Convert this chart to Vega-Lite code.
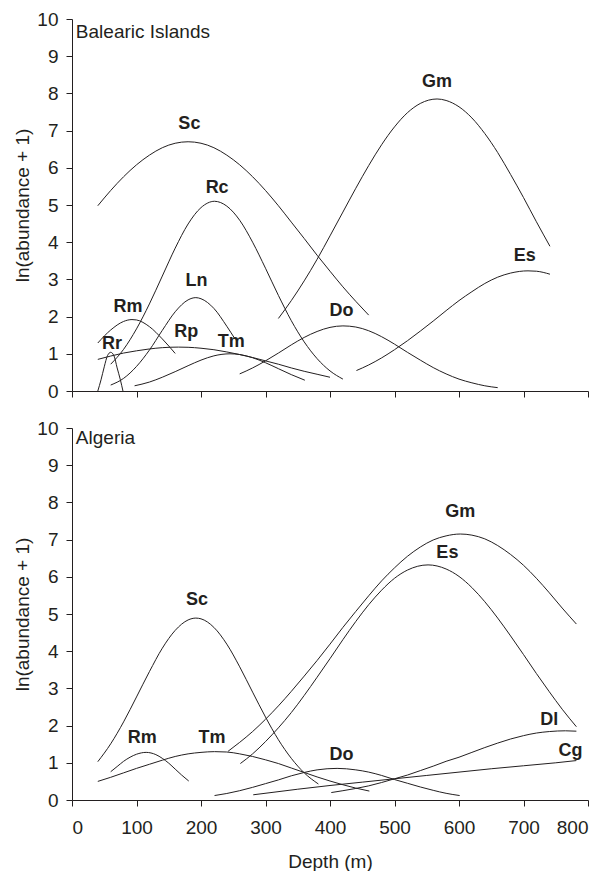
{
  "$schema": "https://vega.github.io/schema/vega-lite/v6.json",
  "background": "white",
  "autosize": {"type": "pad"},
  "padding": {"left": 13, "top": 10, "right": 5, "bottom": 0},
  "config": {
    "view": {"stroke": null},
    "font": "Liberation Sans",
    "axis": {"grid": false, "labelOverlap": false, "domainColor": "#231f20", "tickColor": "#231f20", "labelColor": "#231f20", "titleColor": "#231f20", "labelFont": "Liberation Sans", "titleFont": "Liberation Sans", "labelFontSize": 19, "titleFontSize": 19, "titleFontWeight": "normal", "tickSize": 6, "labelPadding": 8, "domainWidth": 1, "tickWidth": 1}
  },
  "datasets": {
    "balearic": [
      {"species":"Sc","depth":40,"value":4.98},{"species":"Sc","depth":60,"value":5.39},{"species":"Sc","depth":80,"value":5.76},{"species":"Sc","depth":100,"value":6.08},{"species":"Sc","depth":120,"value":6.34},{"species":"Sc","depth":140,"value":6.54},{"species":"Sc","depth":160,"value":6.66},{"species":"Sc","depth":180,"value":6.7},{"species":"Sc","depth":200,"value":6.66},{"species":"Sc","depth":220,"value":6.54},{"species":"Sc","depth":240,"value":6.34},{"species":"Sc","depth":260,"value":6.08},{"species":"Sc","depth":280,"value":5.76},{"species":"Sc","depth":300,"value":5.39},{"species":"Sc","depth":320,"value":4.98},{"species":"Sc","depth":340,"value":4.54},{"species":"Sc","depth":360,"value":4.1},{"species":"Sc","depth":380,"value":3.65},{"species":"Sc","depth":400,"value":3.22},{"species":"Sc","depth":420,"value":2.8},{"species":"Sc","depth":440,"value":2.41},{"species":"Sc","depth":460,"value":2.04},
      {"species":"Rc","depth":60,"value":0.72},{"species":"Rc","depth":80,"value":1.12},{"species":"Rc","depth":100,"value":1.67},{"species":"Rc","depth":120,"value":2.34},{"species":"Rc","depth":140,"value":3.09},{"species":"Rc","depth":160,"value":3.84},{"species":"Rc","depth":180,"value":4.49},{"species":"Rc","depth":200,"value":4.93},{"species":"Rc","depth":221,"value":5.1},{"species":"Rc","depth":240,"value":4.97},{"species":"Rc","depth":260,"value":4.59},{"species":"Rc","depth":280,"value":4.0},{"species":"Rc","depth":300,"value":3.3},{"species":"Rc","depth":320,"value":2.57},{"species":"Rc","depth":340,"value":1.89},{"species":"Rc","depth":360,"value":1.32},{"species":"Rc","depth":380,"value":0.87},{"species":"Rc","depth":400,"value":0.54},{"species":"Rc","depth":420,"value":0.32},
      {"species":"Ln","depth":60,"value":0.16},{"species":"Ln","depth":80,"value":0.34},{"species":"Ln","depth":100,"value":0.66},{"species":"Ln","depth":120,"value":1.1},{"species":"Ln","depth":140,"value":1.63},{"species":"Ln","depth":160,"value":2.13},{"species":"Ln","depth":180,"value":2.45},{"species":"Ln","depth":192,"value":2.51},{"species":"Ln","depth":200,"value":2.48},{"species":"Ln","depth":220,"value":2.22},{"species":"Ln","depth":240,"value":1.74},{"species":"Ln","depth":252,"value":1.42},
      {"species":"Rm","depth":40,"value":1.29},{"species":"Rm","depth":60,"value":1.64},{"species":"Rm","depth":80,"value":1.87},{"species":"Rm","depth":93,"value":1.92},{"species":"Rm","depth":100,"value":1.91},{"species":"Rm","depth":120,"value":1.73},{"species":"Rm","depth":140,"value":1.4},{"species":"Rm","depth":160,"value":1.01},
      {"species":"Rr","depth":40,"value":0},{"species":"Rr","depth":45,"value":0.3},{"species":"Rr","depth":50,"value":0.65},{"species":"Rr","depth":55,"value":0.95},{"species":"Rr","depth":60,"value":1.04},{"species":"Rr","depth":65,"value":0.95},{"species":"Rr","depth":70,"value":0.62},{"species":"Rr","depth":75,"value":0.3},{"species":"Rr","depth":79,"value":0},
      {"species":"Rp","depth":40,"value":0.85},{"species":"Rp","depth":60,"value":0.94},{"species":"Rp","depth":80,"value":1.02},{"species":"Rp","depth":100,"value":1.08},{"species":"Rp","depth":120,"value":1.13},{"species":"Rp","depth":140,"value":1.165},{"species":"Rp","depth":165,"value":1.18},{"species":"Rp","depth":180,"value":1.175},{"species":"Rp","depth":200,"value":1.15},{"species":"Rp","depth":220,"value":1.11},{"species":"Rp","depth":240,"value":1.05},{"species":"Rp","depth":260,"value":0.98},{"species":"Rp","depth":280,"value":0.9},{"species":"Rp","depth":300,"value":0.81},{"species":"Rp","depth":320,"value":0.72},{"species":"Rp","depth":340,"value":0.62},{"species":"Rp","depth":360,"value":0.53},{"species":"Rp","depth":380,"value":0.45},{"species":"Rp","depth":400,"value":0.37},
      {"species":"Tm","depth":97,"value":0.14},{"species":"Tm","depth":120,"value":0.24},{"species":"Tm","depth":140,"value":0.37},{"species":"Tm","depth":160,"value":0.52},{"species":"Tm","depth":180,"value":0.68},{"species":"Tm","depth":200,"value":0.83},{"species":"Tm","depth":220,"value":0.945},{"species":"Tm","depth":245,"value":1.0},{"species":"Tm","depth":260,"value":0.98},{"species":"Tm","depth":280,"value":0.895},{"species":"Tm","depth":300,"value":0.76},{"species":"Tm","depth":320,"value":0.6},{"species":"Tm","depth":340,"value":0.44},{"species":"Tm","depth":361,"value":0.29},
      {"species":"Do","depth":260,"value":0.46},{"species":"Do","depth":280,"value":0.62},{"species":"Do","depth":300,"value":0.81},{"species":"Do","depth":320,"value":1.02},{"species":"Do","depth":340,"value":1.24},{"species":"Do","depth":360,"value":1.44},{"species":"Do","depth":380,"value":1.6},{"species":"Do","depth":400,"value":1.71},{"species":"Do","depth":420,"value":1.75},{"species":"Do","depth":440,"value":1.72},{"species":"Do","depth":460,"value":1.62},{"species":"Do","depth":480,"value":1.46},{"species":"Do","depth":500,"value":1.26},{"species":"Do","depth":520,"value":1.04},{"species":"Do","depth":540,"value":0.83},{"species":"Do","depth":560,"value":0.63},{"species":"Do","depth":580,"value":0.46},{"species":"Do","depth":600,"value":0.32},{"species":"Do","depth":620,"value":0.22},{"species":"Do","depth":640,"value":0.14},{"species":"Do","depth":660,"value":0.09},
      {"species":"Gm","depth":320,"value":1.95},{"species":"Gm","depth":340,"value":2.43},{"species":"Gm","depth":360,"value":2.96},{"species":"Gm","depth":380,"value":3.54},{"species":"Gm","depth":400,"value":4.17},{"species":"Gm","depth":420,"value":4.81},{"species":"Gm","depth":440,"value":5.45},{"species":"Gm","depth":460,"value":6.06},{"species":"Gm","depth":480,"value":6.62},{"species":"Gm","depth":500,"value":7.1},{"species":"Gm","depth":520,"value":7.48},{"species":"Gm","depth":540,"value":7.73},{"species":"Gm","depth":566,"value":7.85},{"species":"Gm","depth":580,"value":7.81},{"species":"Gm","depth":600,"value":7.64},{"species":"Gm","depth":620,"value":7.34},{"species":"Gm","depth":640,"value":6.92},{"species":"Gm","depth":660,"value":6.41},{"species":"Gm","depth":680,"value":5.82},{"species":"Gm","depth":700,"value":5.2},{"species":"Gm","depth":720,"value":4.55},{"species":"Gm","depth":741,"value":3.89},
      {"species":"Es","depth":441,"value":0.55},{"species":"Es","depth":460,"value":0.7},{"species":"Es","depth":480,"value":0.89},{"species":"Es","depth":500,"value":1.11},{"species":"Es","depth":520,"value":1.35},{"species":"Es","depth":540,"value":1.61},{"species":"Es","depth":560,"value":1.88},{"species":"Es","depth":580,"value":2.16},{"species":"Es","depth":600,"value":2.43},{"species":"Es","depth":620,"value":2.67},{"species":"Es","depth":640,"value":2.89},{"species":"Es","depth":660,"value":3.06},{"species":"Es","depth":680,"value":3.17},{"species":"Es","depth":707,"value":3.23},{"species":"Es","depth":720,"value":3.22},{"species":"Es","depth":741,"value":3.14}
    ],
    "balearicLabels": [
      {"label":"Sc","depth":182,"value":7.18},{"label":"Rc","depth":225,"value":5.45},{"label":"Ln","depth":193,"value":2.97},{"label":"Rm","depth":87,"value":2.25},{"label":"Rr","depth":62,"value":1.26},{"label":"Rp","depth":177,"value":1.58},{"label":"Tm","depth":247,"value":1.31},{"label":"Gm","depth":566,"value":8.3},{"label":"Es","depth":702,"value":3.62},{"label":"Do","depth":418,"value":2.16}
    ],
    "algeria": [
      {"species":"Sc","depth":40,"value":1.03},{"species":"Sc","depth":60,"value":1.51},{"species":"Sc","depth":80,"value":2.1},{"species":"Sc","depth":100,"value":2.77},{"species":"Sc","depth":120,"value":3.45},{"species":"Sc","depth":140,"value":4.08},{"species":"Sc","depth":160,"value":4.56},{"species":"Sc","depth":180,"value":4.84},{"species":"Sc","depth":192,"value":4.89},{"species":"Sc","depth":200,"value":4.87},{"species":"Sc","depth":220,"value":4.64},{"species":"Sc","depth":240,"value":4.19},{"species":"Sc","depth":260,"value":3.58},{"species":"Sc","depth":280,"value":2.9},{"species":"Sc","depth":300,"value":2.23},{"species":"Sc","depth":320,"value":1.62},{"species":"Sc","depth":340,"value":1.12},{"species":"Sc","depth":360,"value":0.73},{"species":"Sc","depth":382,"value":0.43},
      {"species":"Rm","depth":60,"value":0.76},{"species":"Rm","depth":70,"value":0.9},{"species":"Rm","depth":80,"value":1.04},{"species":"Rm","depth":90,"value":1.15},{"species":"Rm","depth":100,"value":1.23},{"species":"Rm","depth":115,"value":1.28},{"species":"Rm","depth":130,"value":1.22},{"species":"Rm","depth":140,"value":1.12},{"species":"Rm","depth":150,"value":0.99},{"species":"Rm","depth":160,"value":0.83},{"species":"Rm","depth":170,"value":0.67},{"species":"Rm","depth":181,"value":0.51},
      {"species":"Tm","depth":40,"value":0.5},{"species":"Tm","depth":60,"value":0.61},{"species":"Tm","depth":80,"value":0.73},{"species":"Tm","depth":100,"value":0.85},{"species":"Tm","depth":120,"value":0.96},{"species":"Tm","depth":140,"value":1.07},{"species":"Tm","depth":160,"value":1.17},{"species":"Tm","depth":180,"value":1.24},{"species":"Tm","depth":200,"value":1.28},{"species":"Tm","depth":221,"value":1.3},{"species":"Tm","depth":240,"value":1.29},{"species":"Tm","depth":260,"value":1.24},{"species":"Tm","depth":280,"value":1.17},{"species":"Tm","depth":300,"value":1.08},{"species":"Tm","depth":320,"value":0.98},{"species":"Tm","depth":340,"value":0.86},{"species":"Tm","depth":360,"value":0.74},{"species":"Tm","depth":380,"value":0.62},{"species":"Tm","depth":400,"value":0.51},{"species":"Tm","depth":420,"value":0.41},{"species":"Tm","depth":440,"value":0.32},{"species":"Tm","depth":461,"value":0.24},
      {"species":"Gm","depth":242,"value":1.31},{"species":"Gm","depth":260,"value":1.55},{"species":"Gm","depth":280,"value":1.84},{"species":"Gm","depth":300,"value":2.17},{"species":"Gm","depth":320,"value":2.53},{"species":"Gm","depth":340,"value":2.92},{"species":"Gm","depth":360,"value":3.33},{"species":"Gm","depth":380,"value":3.75},{"species":"Gm","depth":400,"value":4.19},{"species":"Gm","depth":420,"value":4.64},{"species":"Gm","depth":440,"value":5.07},{"species":"Gm","depth":460,"value":5.49},{"species":"Gm","depth":480,"value":5.89},{"species":"Gm","depth":500,"value":6.24},{"species":"Gm","depth":520,"value":6.55},{"species":"Gm","depth":540,"value":6.8},{"species":"Gm","depth":560,"value":6.99},{"species":"Gm","depth":580,"value":7.1},{"species":"Gm","depth":602,"value":7.15},{"species":"Gm","depth":620,"value":7.12},{"species":"Gm","depth":640,"value":7.02},{"species":"Gm","depth":660,"value":6.84},{"species":"Gm","depth":680,"value":6.6},{"species":"Gm","depth":700,"value":6.31},{"species":"Gm","depth":720,"value":5.96},{"species":"Gm","depth":740,"value":5.57},{"species":"Gm","depth":760,"value":5.16},{"species":"Gm","depth":782,"value":4.73},
      {"species":"Es","depth":261,"value":0.98},{"species":"Es","depth":280,"value":1.24},{"species":"Es","depth":300,"value":1.57},{"species":"Es","depth":320,"value":1.94},{"species":"Es","depth":340,"value":2.35},{"species":"Es","depth":360,"value":2.81},{"species":"Es","depth":380,"value":3.3},{"species":"Es","depth":400,"value":3.8},{"species":"Es","depth":420,"value":4.31},{"species":"Es","depth":440,"value":4.8},{"species":"Es","depth":460,"value":5.25},{"species":"Es","depth":480,"value":5.64},{"species":"Es","depth":500,"value":5.96},{"species":"Es","depth":520,"value":6.18},{"species":"Es","depth":552,"value":6.32},{"species":"Es","depth":580,"value":6.21},{"species":"Es","depth":600,"value":6.01},{"species":"Es","depth":620,"value":5.71},{"species":"Es","depth":640,"value":5.33},{"species":"Es","depth":660,"value":4.89},{"species":"Es","depth":680,"value":4.41},{"species":"Es","depth":700,"value":3.91},{"species":"Es","depth":720,"value":3.4},{"species":"Es","depth":740,"value":2.91},{"species":"Es","depth":760,"value":2.44},{"species":"Es","depth":782,"value":1.97},
      {"species":"Do","depth":221,"value":0.12},{"species":"Do","depth":240,"value":0.175},{"species":"Do","depth":260,"value":0.25},{"species":"Do","depth":280,"value":0.34},{"species":"Do","depth":300,"value":0.44},{"species":"Do","depth":320,"value":0.54},{"species":"Do","depth":340,"value":0.65},{"species":"Do","depth":360,"value":0.74},{"species":"Do","depth":380,"value":0.81},{"species":"Do","depth":411,"value":0.85},{"species":"Do","depth":440,"value":0.81},{"species":"Do","depth":460,"value":0.75},{"species":"Do","depth":480,"value":0.66},{"species":"Do","depth":500,"value":0.55},{"species":"Do","depth":520,"value":0.45},{"species":"Do","depth":540,"value":0.35},{"species":"Do","depth":560,"value":0.26},{"species":"Do","depth":580,"value":0.18},{"species":"Do","depth":601,"value":0.12},
      {"species":"Dl","depth":402,"value":0.2},{"species":"Dl","depth":420,"value":0.25},{"species":"Dl","depth":440,"value":0.31},{"species":"Dl","depth":460,"value":0.38},{"species":"Dl","depth":480,"value":0.47},{"species":"Dl","depth":500,"value":0.57},{"species":"Dl","depth":520,"value":0.67},{"species":"Dl","depth":540,"value":0.79},{"species":"Dl","depth":560,"value":0.91},{"species":"Dl","depth":580,"value":1.04},{"species":"Dl","depth":600,"value":1.15},{"species":"Dl","depth":620,"value":1.28},{"species":"Dl","depth":640,"value":1.41},{"species":"Dl","depth":660,"value":1.53},{"species":"Dl","depth":680,"value":1.64},{"species":"Dl","depth":700,"value":1.73},{"species":"Dl","depth":720,"value":1.8},{"species":"Dl","depth":740,"value":1.84},{"species":"Dl","depth":765,"value":1.86},{"species":"Dl","depth":782,"value":1.85},
      {"species":"Cg","depth":281,"value":0.14},{"species":"Cg","depth":350,"value":0.29},{"species":"Cg","depth":400,"value":0.39},{"species":"Cg","depth":450,"value":0.48},{"species":"Cg","depth":500,"value":0.57},{"species":"Cg","depth":550,"value":0.66},{"species":"Cg","depth":600,"value":0.75},{"species":"Cg","depth":650,"value":0.84},{"species":"Cg","depth":700,"value":0.92},{"species":"Cg","depth":750,"value":1.0},{"species":"Cg","depth":782,"value":1.06}
    ],
    "algeriaLabels": [
      {"label":"Sc","depth":194,"value":5.38},{"label":"Rm","depth":109,"value":1.67},{"label":"Tm","depth":217,"value":1.67},{"label":"Gm","depth":602,"value":7.75},{"label":"Es","depth":582,"value":6.65},{"label":"Dl","depth":740,"value":2.15},{"label":"Cg","depth":773,"value":1.32},{"label":"Do","depth":418,"value":1.21}
    ],
    "titles": [
      {"panel":"top","name":"Balearic Islands","depth":6,"value":9.64},
      {"panel":"bottom","name":"Algeria","depth":6,"value":9.72}
    ]
  },
  "vconcat": [
    {
      "width": 516, "height": 372,
      "encoding": {
        "x": {"field": "depth", "type": "quantitative", "scale": {"domain": [0, 800], "nice": false}, "axis": {"values": [0,100,200,300,400,500,600,700,800], "labels": false, "title": null}},
        "y": {"field": "value", "type": "quantitative", "scale": {"domain": [0, 10], "nice": false}, "axis": {"values": [0,1,2,3,4,5,6,7,8,9,10], "tickCount": 11, "labelOverlap": false, "title": "ln(abundance + 1)"}}
      },
      "layer": [
        {
          "data": {"name": "balearic"},
          "mark": {"type": "line", "color": "#231f20", "strokeWidth": 1, "interpolate": "monotone"},
          "encoding": {"detail": {"field": "species"}}
        },
        {
          "data": {"name": "balearicLabels"},
          "mark": {"type": "text", "fontWeight": "bold", "fontSize": 18, "color": "#231f20", "font": "Liberation Sans", "baseline": "middle"},
          "encoding": {"text": {"field": "label"}}
        },
        {
          "data": {"name": "titles"},
          "transform": [{"filter": "datum.panel === 'top'"}],
          "mark": {"type": "text", "fontSize": 19, "color": "#231f20", "font": "Liberation Sans", "align": "left", "baseline": "middle"},
          "encoding": {"text": {"field": "name"}}
        }
      ]
    },
    {
      "width": 516, "height": 372,
      "encoding": {
        "x": {"field": "depth", "type": "quantitative", "scale": {"domain": [0, 800], "nice": false}, "axis": {"values": [0,100,200,300,400,500,600,700,800], "title": "Depth (m)", "labelPadding": 12, "titlePadding": 15}},
        "y": {"field": "value", "type": "quantitative", "scale": {"domain": [0, 10], "nice": false}, "axis": {"values": [0,1,2,3,4,5,6,7,8,9,10], "tickCount": 11, "labelOverlap": false, "title": "ln(abundance + 1)"}}
      },
      "layer": [
        {
          "data": {"name": "algeria"},
          "mark": {"type": "line", "color": "#231f20", "strokeWidth": 1, "interpolate": "monotone"},
          "encoding": {"detail": {"field": "species"}}
        },
        {
          "data": {"name": "algeriaLabels"},
          "mark": {"type": "text", "fontWeight": "bold", "fontSize": 18, "color": "#231f20", "font": "Liberation Sans", "baseline": "middle"},
          "encoding": {"text": {"field": "label"}}
        },
        {
          "data": {"name": "titles"},
          "transform": [{"filter": "datum.panel === 'bottom'"}],
          "mark": {"type": "text", "fontSize": 19, "color": "#231f20", "font": "Liberation Sans", "align": "left", "baseline": "middle"},
          "encoding": {"text": {"field": "name"}}
        }
      ]
    }
  ],
  "spacing": 18
}
